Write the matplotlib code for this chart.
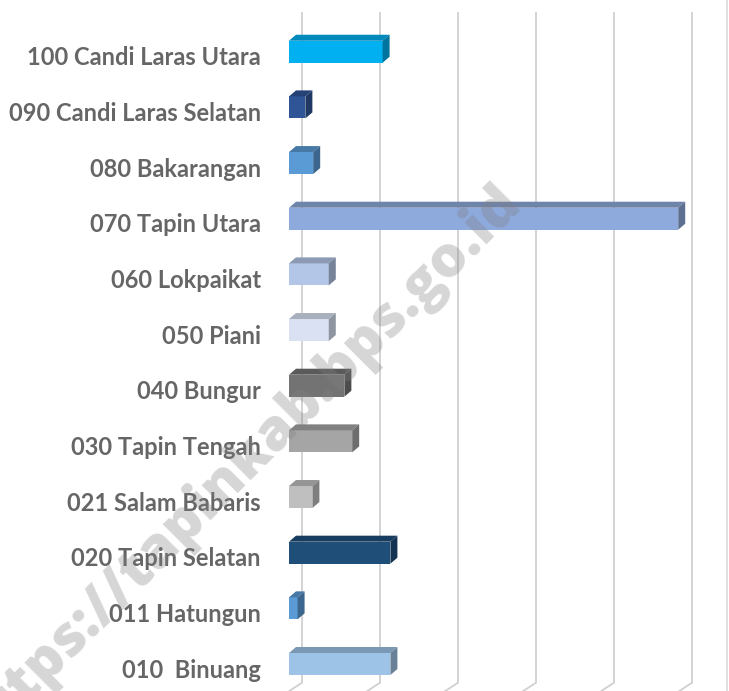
"""Kecamatan di Kabupaten Tapin - diagram batang 3D (disimpan sebagai out.png)."""

import matplotlib

matplotlib.use("Agg")
import matplotlib.pyplot as plt
from matplotlib.patches import Polygon
from matplotlib.transforms import ScaledTranslation

# data, urutan dari atas ke bawah seperti di gambar
kecamatan = [
    "100 Candi Laras Utara", "090 Candi Laras Selatan", "080 Bakarangan",
    "070 Tapin Utara", "060 Lokpaikat", "050 Piani", "040 Bungur",
    "030 Tapin Tengah", "021 Salam Babaris", "020 Tapin Selatan",
    "011 Hatungun", "010  Binuang",
]
nilai = [120, 21, 31, 499, 51, 51, 71, 81, 30, 130, 11, 130]
warna = [
    "#00B0F0", "#2F5597", "#5B9BD5", "#8EA9DB", "#B4C6E7", "#D9E1F2",
    "#737373", "#A5A5A5", "#BFBFBF", "#1F4E79", "#5B9BD5", "#9DC3E6",
]
grid_nilai = [0, 100, 200, 300, 400, 500]

W, H = 729, 691
fig = plt.figure(figsize=(W / 100, H / 100), dpi=100)
ax = fig.add_axes([289 / W, 0, (W - 289) / W, 1])

px_x = 100 / 78       # satuan data per piksel (sumbu x)
px_y = 1 / 55.66      # satuan kategori per piksel (sumbu y)
ax.set_xlim(0, (W - 289) * px_x)
ax.set_ylim(-27 * px_y, 664 * px_y)

# garis grid di dinding belakang + kaki miring ke lantai
wx, wy = 13 * px_x, 8.5 * px_y
g_bawah, g_atas = (664 - 682.7) * px_y, (664 - 13) * px_y
for g in grid_nilai:
    ax.plot([g + wx, g + wx, g], [g_atas, g_bawah, g_bawah - wy],
            color="#D0D0D0", lw=1.3, zorder=1, clip_on=False,
            solid_joinstyle="miter")


def gelap(c, f):
    r, g, b = matplotlib.colors.to_rgb(c)
    return (r * f, g * f, b * f)


# batang 3D
n = len(kecamatan)
h = 22 * px_y
dx, dy = 7 * px_x, 6 * px_y
for k, (v, c) in enumerate(zip(nilai, warna)):
    y = n - 1 - k
    b, t = y - h / 2, y + h / 2
    ax.add_patch(Polygon([(0, b), (v, b), (v, t), (0, t)], closed=True,
                         facecolor=c, edgecolor="none", zorder=3))
    ax.add_patch(Polygon([(0, t), (v, t), (v + dx, t + dy), (dx, t + dy)],
                         closed=True, facecolor=gelap(c, 0.78),
                         edgecolor="none", zorder=3))
    ax.add_patch(Polygon([(v, b), (v, t), (v + dx, t + dy), (v + dx, b + dy)],
                         closed=True, facecolor=gelap(c, 0.66),
                         edgecolor="none", zorder=3))

ax.set_yticks(range(n), kecamatan[::-1])
ax.tick_params(axis="y", length=0, pad=20.2)
for lab in ax.get_yticklabels():
    lab.set_fontfamily("Lato")
    lab.set_fontweight("bold")
    lab.set_fontsize(17)
    lab.set_color("#666666")
    lab.set_transform(lab.get_transform()
                      + ScaledTranslation(0, -3 / 72, fig.dpi_scale_trans))
ax.set_xticks([])
for s in ax.spines.values():
    s.set_visible(False)
ax.patch.set_visible(False)

# garis tepi kanan area grafik
fig.add_artist(plt.Line2D([726.7 / W, 726.7 / W], [0, 1], color="#D9D9D9",
                          lw=1.2, transform=fig.transFigure))

# watermark
fig.text(240 / W, 1 - 466 / H, "https://tapinkab.bps.go.id", rotation=45,
         rotation_mode="anchor", ha="center", va="center", fontsize=41,
         fontweight=800, fontfamily="Open Sans", color="#808080",
         alpha=0.32, zorder=10)

fig.savefig("out.png", dpi=100)
plt.close(fig)
